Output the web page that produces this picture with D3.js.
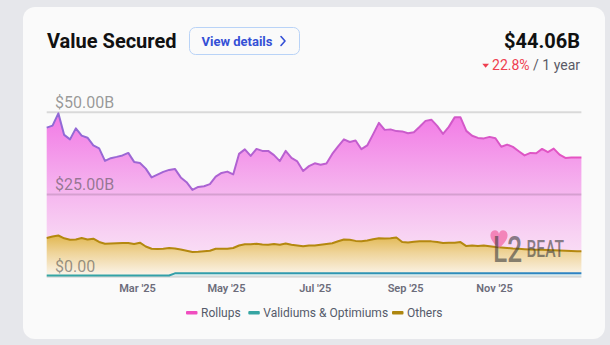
<!DOCTYPE html>
<html>
<head>
<meta charset="utf-8">
<script src="https://cdn.jsdelivr.net/npm/d3@7"></script>
<style>
  html, body { margin: 0; padding: 0; background: #e6e7eb; }
  svg { display: block; font-family: Roboto, "Noto Sans", sans-serif; }
</style>
</head>
<body>
<svg id="chart" width="610" height="345"></svg>
<script>
// ---- data ----
const dates = ["2024-12-29","2025-01-02","2025-01-06","2025-01-10","2025-01-14","2025-01-18","2025-01-22","2025-01-26","2025-01-30","2025-02-03","2025-02-07","2025-02-11","2025-02-15","2025-02-19","2025-02-23","2025-02-27","2025-03-03","2025-03-07","2025-03-11","2025-03-15","2025-03-19","2025-03-23","2025-03-27","2025-03-31","2025-04-04","2025-04-08","2025-04-12","2025-04-16","2025-04-20","2025-04-24","2025-04-28","2025-05-02","2025-05-06","2025-05-10","2025-05-14","2025-05-18","2025-05-22","2025-05-26","2025-05-30","2025-06-03","2025-06-07","2025-06-11","2025-06-15","2025-06-19","2025-06-23","2025-06-27","2025-07-01","2025-07-05","2025-07-09","2025-07-13","2025-07-17","2025-07-21","2025-07-25","2025-07-29","2025-08-02","2025-08-06","2025-08-10","2025-08-14","2025-08-18","2025-08-22","2025-08-26","2025-08-30","2025-09-03","2025-09-07","2025-09-11","2025-09-15","2025-09-19","2025-09-23","2025-09-27","2025-10-01","2025-10-05","2025-10-09","2025-10-13","2025-10-17","2025-10-21","2025-10-25","2025-10-29","2025-11-02","2025-11-06","2025-11-10","2025-11-14","2025-11-18","2025-11-22","2025-11-26","2025-11-30","2025-12-04","2025-12-08","2025-12-12","2025-12-16","2025-12-20","2025-12-24","2025-12-28","2025-12-31"];

// billions USD
const rollups = [33.53,33.68,37.09,31.40,30.46,33.74,31.10,30.94,28.33,28.42,25.14,25.87,26.21,26.63,27.36,24.93,24.23,23.65,21.68,22.56,23.32,23.75,24.17,21.89,20.83,18.85,19.70,19.73,20.22,21.89,23.01,23.41,22.35,27.82,28.79,26.87,28.82,28.42,28.48,27.02,25.38,28.12,26.38,25.51,22.89,24.08,24.99,24.32,24.47,27.12,28.82,30.40,29.67,30.49,27.94,28.91,31.86,35.02,32.99,33.08,32.31,33.59,33.20,33.32,34.81,36.57,36.97,35.26,33.14,35.18,38.07,37.88,34.99,33.32,32.83,32.50,33.23,33.04,30.58,31.41,30.86,29.64,28.48,29.33,29.30,30.67,29.70,30.86,29.10,28.18,28.36,28.49,28.45];

const others = [11.39,11.85,12.15,11.30,10.88,10.94,11.39,10.91,11.18,10.18,9.66,9.75,9.81,9.84,9.87,9.57,9.96,8.81,8.11,8.05,8.14,8.32,7.55,7.25,6.85,6.49,6.55,6.73,6.88,7.49,7.49,7.49,7.70,8.46,8.86,8.80,8.98,8.77,8.71,8.89,8.71,9.07,8.68,8.49,8.22,8.49,8.43,8.68,8.92,9.16,9.74,10.29,10.23,9.86,9.77,9.95,10.35,10.68,10.59,10.65,10.90,9.53,9.34,9.56,9.74,9.74,9.71,9.53,9.22,9.31,9.31,9.50,8.28,8.49,8.31,8.49,8.22,7.98,7.86,7.70,7.55,7.46,7.34,7.25,7.19,7.13,7.10,7.03,6.97,6.88,6.79,6.73,6.70];

const validiums = [0.25,0.25,0.25,0.25,0.25,0.25,0.25,0.25,0.25,0.25,0.25,0.25,0.25,0.25,0.25,0.25,0.25,0.25,0.25,0.25,0.25,0.25,0.90,0.90,0.90,0.90,0.90,0.90,0.90,0.90,0.90,0.90,0.90,0.90,0.90,0.90,0.90,0.90,0.90,0.90,0.90,0.90,0.90,0.90,0.90,0.90,0.90,0.90,0.90,0.90,0.90,0.90,0.90,0.90,0.90,0.90,0.90,0.90,0.90,0.90,0.90,0.90,0.90,0.90,0.90,0.90,0.90,0.90,0.90,0.90,0.90,0.90,0.90,0.90,0.90,0.90,0.90,0.90,0.90,0.90,0.90,0.90,0.90,0.90,0.90,0.90,0.90,0.90,0.90,0.90,0.90,0.90,0.90];

const yTicks = [0, 25, 50];
const xTickDates = ["2025-03-01","2025-05-01","2025-07-01","2025-09-01","2025-11-01"];
const seriesNames = ["Rollups", "Validiums & Optimiums", "Others"];
const seriesColors = ["#f04dbf", "#36a5a3", "#ad860f"];
const titleText = "Value Secured";
const buttonText = "View details";
const headlineValue = "$44.06B";
const changeText = "22.8%";
const periodText = " / 1 year";

// ---- build ----
const parse = d3.timeParse("%Y-%m-%d");
const rows = dates.map((d, i) => ({
  date: parse(d), rollups: rollups[i], others: others[i], validiums: validiums[i]
}));

const svg = d3.select("#chart");
const defs = svg.append("defs");

// card
svg.append("rect").attr("x", 23).attr("y", 7).attr("width", 582).attr("height", 332)
  .attr("rx", 12).attr("fill", "#fafafa");

// header
svg.append("text").attr("x", 47).attr("y", 47.5).attr("font-size", 20).attr("font-weight", 700)
  .attr("fill", "#111").text(titleText);

const btn = svg.append("g");
btn.append("rect").attr("x", 189.5).attr("y", 27.5).attr("width", 110).attr("height", 27).attr("rx", 6)
  .attr("fill", "#fafafa").attr("stroke", "#b9d3f7").attr("stroke-width", 1);
btn.append("text").attr("x", 201.5).attr("y", 46).attr("font-size", 13).attr("font-weight", 700)
  .attr("fill", "#3550d6").text(buttonText);
btn.append("path").attr("d", "M281,36.5 L285,41 L281,45.5").attr("fill", "none")
  .attr("stroke", "#3550d6").attr("stroke-width", 1.6).attr("stroke-linecap", "round").attr("stroke-linejoin", "round");

svg.append("text").attr("x", 580).attr("y", 47.5).attr("text-anchor", "end").attr("font-size", 20)
  .attr("font-weight", 700).attr("fill", "#111").text(headlineValue);

const sub = svg.append("text").attr("x", 580).attr("y", 69.5).attr("text-anchor", "end").attr("font-size", 14);
sub.append("tspan").attr("fill", "#ef3e4f").text(changeText);
sub.append("tspan").attr("fill", "#5a5a66").text(periodText);
svg.append("path").attr("d", "M482.3,63.8 L489,63.8 L485.65,67.8 Z").attr("fill", "#ef3e4f");

// scales
const x = d3.scaleTime().domain(d3.extent(rows, d => d.date)).range([46.7, 581.4]);
const y = d3.scaleLinear().domain([0, 50]).range([276.3, 111.7]);

// gradients
function linGrad(id, x1, y1, x2, y2, stops) {
  const g = defs.append("linearGradient").attr("id", id).attr("gradientUnits", "userSpaceOnUse")
    .attr("x1", x1).attr("y1", y1).attr("x2", x2).attr("y2", y2);
  stops.forEach(s => g.append("stop").attr("offset", s[0]).attr("stop-color", s[1]));
}
linGrad("rollFill", 0, 111, 0, 276, [[0, "#f277e5"], [0.45, "#f5b1ee"], [0.75, "#f8d3f3"], [1, "#fbe8f8"]]);
linGrad("othFill", 0, 234, 0, 276, [[0, "#e0b54a"], [0.45, "#efd49a"], [1, "#fbf5ec"]]);
linGrad("rollStroke", 46.7, 0, 581.4, 0, [[0, "#8e6ad6"], [0.5, "#bd5fd0"], [1, "#e653c2"]]);
linGrad("valStroke", 46.7, 0, 581.4, 0, [[0, "#35a6a3"], [0.5, "#2f98b0"], [1, "#2d82c4"]]);

const stack = d3.stack().keys(["validiums", "others", "rollups"]);
const stacked = stack(rows);
const area = d3.area().x(d => x(d.data.date)).y0(d => y(d[0])).y1(d => y(d[1]));
const topLine = d3.line().x(d => x(d.data.date)).y(d => y(d[1]));

const plot = svg.append("g");
plot.append("path").datum(stacked[2]).attr("d", area).attr("fill", "url(#rollFill)");
plot.append("path").datum(stacked[1]).attr("d", area).attr("fill", "url(#othFill)");
plot.append("path").datum(stacked[0]).attr("d", area).attr("fill", "#e3f1f1");

// gridlines + y labels via axis
const yAxis = d3.axisRight(y).tickValues(yTicks).tickSize(581.4 - 46.7)
  .tickFormat(v => v === 0 ? "$0.00" : "$" + v.toFixed(2) + "B");
const yg = svg.append("g").attr("transform", "translate(46.7,0)").call(yAxis);
yg.select(".domain").remove();
yg.selectAll(".tick line").attr("stroke", "rgba(0,0,0,0.13)").attr("stroke-width", 2);
yg.selectAll(".tick text").attr("x", 8.3).attr("dy", -4.4).attr("text-anchor", "start")
  .attr("font-size", 16).attr("font-family", "Roboto, sans-serif").attr("fill", "rgba(70,70,70,0.55)");

// lines
plot.append("path").datum(stacked[1]).attr("d", topLine).attr("fill", "none")
  .attr("stroke", "#b4880f").attr("stroke-width", 2).attr("stroke-linejoin", "round");
svg.append("path").datum(stacked[2]).attr("d", topLine).attr("fill", "none")
  .attr("stroke", "url(#rollStroke)").attr("stroke-width", 2).attr("stroke-linejoin", "round");
svg.append("path").datum(stacked[0]).attr("d", topLine).attr("fill", "none")
  .attr("stroke", "url(#valStroke)").attr("stroke-width", 2).attr("stroke-linejoin", "round");

// watermark
const wm = svg.append("g");
wm.append("path").attr("d", "M499,248 C490,241 488.5,234 492.5,231 C495.5,229 498.5,231 499,234 C499.5,231 502.5,229 505.5,231 C509.5,234 508,241 499,248 Z")
  .attr("fill", "#f26aa6").attr("opacity", 0.75);
wm.append("text").attr("transform", "translate(493,262) scale(1.05,1.45)")
  .attr("font-size", 25).attr("font-weight", 500)
  .attr("fill", "rgba(60,60,60,0.6)").text("L2");
wm.append("text").attr("transform", "translate(526.5,257) scale(0.92,1.45)")
  .attr("font-size", 17).attr("font-weight", 500)
  .attr("fill", "rgba(60,60,60,0.6)").text("BEAT");

// x axis
const xAxis = d3.axisBottom(x).tickValues(xTickDates.map(parse)).tickSize(0)
  .tickFormat(d3.timeFormat("%b '%y"));
const xg = svg.append("g").attr("transform", "translate(0,281)").call(xAxis);
xg.select(".domain").remove();
xg.selectAll(".tick text").attr("font-size", 11).attr("font-weight", 600)
  .attr("font-family", "Roboto, sans-serif").attr("fill", "#6c6c7a").attr("dy", "0.71em");

// legend
const legendX = [186, 248.3, 392];
const legend = svg.append("g");
seriesNames.forEach((name, i) => {
  legend.append("rect").attr("x", legendX[i]).attr("y", 311).attr("width", 11.5).attr("height", 3.6)
    .attr("rx", 1).attr("fill", seriesColors[i]);
  legend.append("text").attr("x", legendX[i] + 15).attr("y", 317).attr("font-size", 12)
    .attr("fill", "#555a6a").text(name);
});
</script>
</body>
</html>
